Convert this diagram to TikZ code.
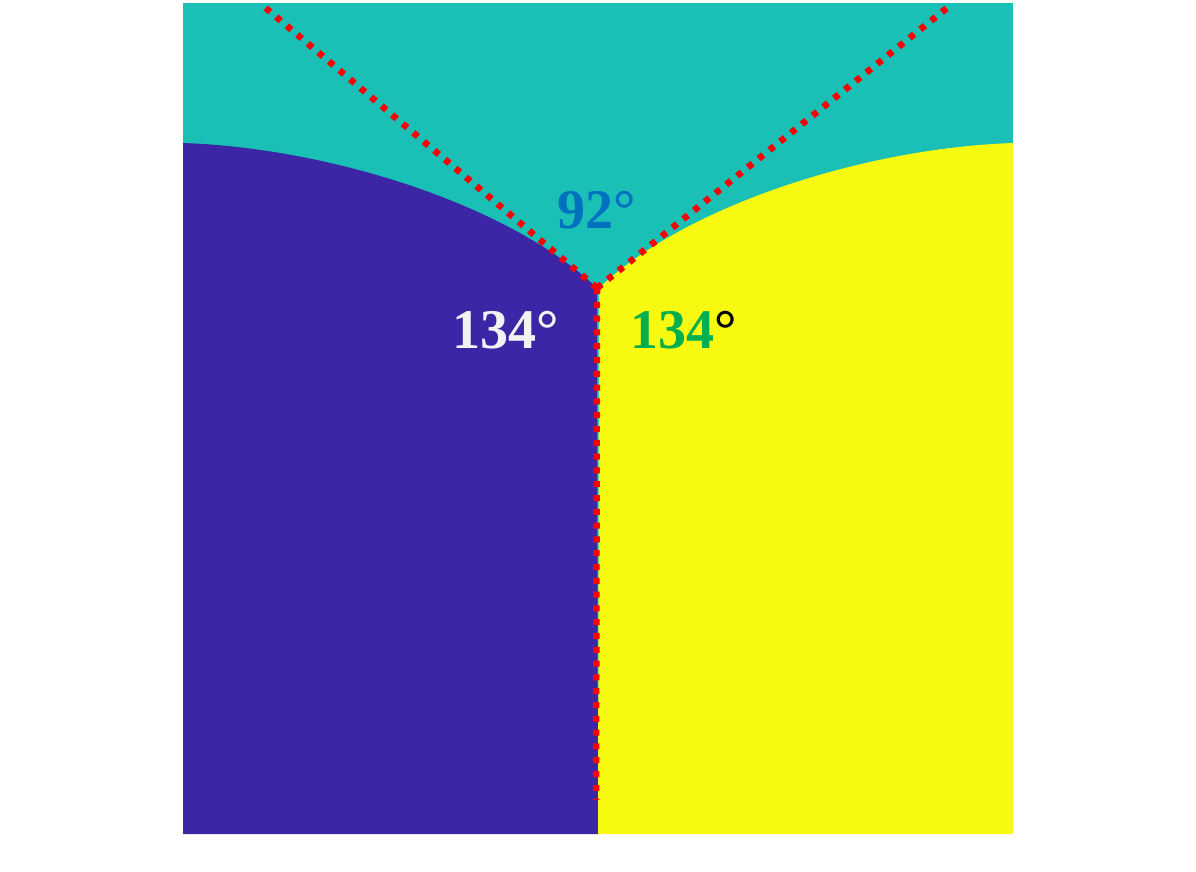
\documentclass[tikz,border=0pt]{standalone}
\usepackage{fontspec}
\setmainfont{Liberation Serif}
\begin{document}
\begin{tikzpicture}[x=1pt,y=-1pt,
  redline/.style={draw=redc,line width=6.5pt,dash pattern=on 6pt off 7.8pt},
  anglelabel/.style={font=\fontsize{56}{60}\selectfont\bfseries,inner sep=0pt,anchor=center}]
\definecolor{tealc}{HTML}{1ABFB5}
\definecolor{purplec}{HTML}{3C26A6}
\definecolor{yellowc}{HTML}{F8F910}
\definecolor{redc}{HTML}{FF0000}
\definecolor{bluec}{HTML}{0070C0}
\definecolor{greenc}{HTML}{00B050}
\definecolor{whitec}{HTML}{F2F2F2}
\useasboundingbox (0,0) rectangle (1196,872);
\fill[white] (0,0) rectangle (1196,872);
% regions
\fill[tealc] (183,3) rectangle (1013,834);
\fill[purplec] (183,143) .. controls (330,148) and (510,205) .. (597,288) -- (598,834) -- (183,834) -- cycle;
\fill[yellowc] (1013,143) .. controls (866,148) and (686,205) .. (599,288) -- (598,834) -- (1013,834) -- cycle;
% dotted lines
\coordinate (J) at (597,288);
\coordinate (TL) at (261,4);
\coordinate (TR) at (952,4);
\coordinate (B) at (596,800);
\draw[redline] (J) -- (TL);
\draw[redline] (J) -- (TR);
\draw[redline] (J) -- (B);
% labels
\node[anglelabel,text=bluec] (a92) at (597,210) {92°};
\node[anglelabel,text=whitec] (a134l) at (506,330) {134°};
\node[anglelabel,text=greenc] (a134r) at (684,330) {134\textcolor{black}{°}};
\end{tikzpicture}
\end{document}
